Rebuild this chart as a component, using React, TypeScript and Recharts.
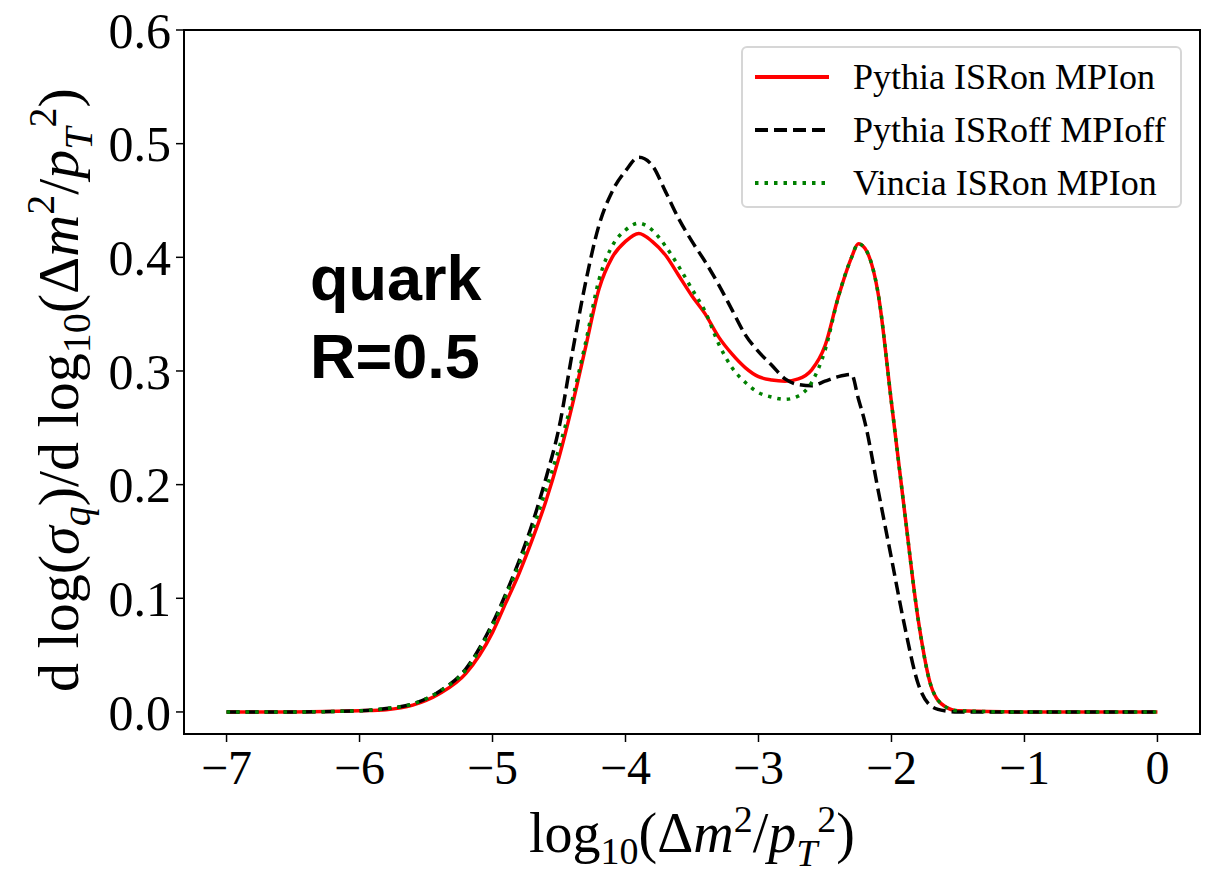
import React from "react";
import { LineChart, Line, XAxis, YAxis, ReferenceArea } from "recharts";

// log10(dm^2/pT^2) sample points
const xValues = [
  -7, -6.5, -6, -5.8, -5.6, -5.4, -5.2, -5.0, -4.9, -4.8, -4.7, -4.6, -4.5,
  -4.4, -4.3, -4.2, -4.1, -4.0, -3.9, -3.8, -3.7, -3.6, -3.5, -3.4, -3.3, -3.2,
  -3.1, -3.0, -2.9, -2.8, -2.7, -2.6, -2.5, -2.4, -2.3, -2.25, -2.2, -2.1, -2.0,
  -1.9, -1.8, -1.7, -1.6, -1.5, -1.0, -0.5, 0,
];

const pythiaOn = [
  0, 0, 0.001, 0.002, 0.006, 0.016, 0.034, 0.07, 0.096, 0.122, 0.152, 0.185,
  0.224, 0.27, 0.321, 0.372, 0.4, 0.414, 0.421, 0.414, 0.402, 0.384, 0.366,
  0.35, 0.33, 0.315, 0.303, 0.295, 0.292, 0.291, 0.293, 0.301, 0.322, 0.365,
  0.4, 0.412, 0.408, 0.368, 0.272, 0.175, 0.082, 0.022, 0.005, 0.001, 0, 0, 0,
];

const pythiaOff = [
  0, 0, 0.001, 0.003, 0.007, 0.018, 0.038, 0.078, 0.104, 0.133, 0.166, 0.205,
  0.25, 0.316, 0.378, 0.428, 0.458, 0.476, 0.488, 0.481, 0.458, 0.434, 0.414,
  0.396, 0.376, 0.354, 0.332, 0.317, 0.305, 0.293, 0.288, 0.287, 0.291, 0.295,
  0.297, 0.276, 0.255, 0.195, 0.135, 0.075, 0.025, 0.005, 0.001, 0, 0, 0, 0,
];

const vinciaOn = [
  0, 0, 0.001, 0.003, 0.007, 0.018, 0.037, 0.076, 0.102, 0.13, 0.16, 0.195,
  0.232, 0.275, 0.325, 0.38, 0.41, 0.424, 0.43, 0.424, 0.41, 0.392, 0.372,
  0.352, 0.324, 0.303, 0.29, 0.281, 0.277, 0.275, 0.278, 0.29, 0.318, 0.365,
  0.4, 0.412, 0.408, 0.368, 0.272, 0.175, 0.082, 0.022, 0.005, 0.001, 0, 0, 0,
];

const xTicks = [-7, -6, -5, -4, -3, -2, -1, 0];
const yTicks = [0, 0.1, 0.2, 0.3, 0.4, 0.5, 0.6];

const seriesInfo = [
  { key: "pythiaOn", name: "Pythia ISRon MPIon", color: "#ff0000", dash: undefined },
  { key: "pythiaOff", name: "Pythia ISRoff MPIoff", color: "#000000", dash: "13 6" },
  { key: "vinciaOn", name: "Vincia ISRon MPIon", color: "#008000", dash: "3.5 6" },
];

const data = xValues.map((x, i) => ({
  x,
  pythiaOn: pythiaOn[i],
  pythiaOff: pythiaOff[i],
  vinciaOn: vinciaOn[i],
}));

const serif = "'Liberation Serif', 'DejaVu Serif', serif";

const fmtX = (v: number) => (v < 0 ? "\u2212" + Math.abs(v) : String(v));

const LegendBox = () => (
  <div
    style={{
      position: "absolute",
      left: 741,
      top: 46,
      width: 441,
      height: 162,
      border: "2px solid #d6d6d6",
      borderRadius: 6,
      background: "#fff",
      boxSizing: "border-box",
      padding: "0 0 0 10px",
      fontFamily: serif,
      fontSize: 36,
      color: "#000",
    }}
  >
    {seriesInfo.map((s, i) => (
      <div
        key={s.key}
        style={{
          display: "flex",
          alignItems: "center",
          height: 53,
          marginTop: i === 0 ? 2 : 0,
        }}
      >
        <svg width={80} height={10}>
          <line
            x1={2}
            y1={5}
            x2={76}
            y2={5}
            stroke={s.color}
            strokeWidth={4}
            strokeDasharray={s.dash}
          />
        </svg>
        <span style={{ marginLeft: 20 }}>{s.name}</span>
      </div>
    ))}
  </div>
);

export default function App() {
  return (
    <div style={{ position: "absolute", left: 0, top: 0, width: 1214, height: 877 }}>
      <LineChart
        width={1214}
        height={877}
        data={data}
        margin={{ top: 30, right: 14, bottom: 83, left: 84 }}
      >
        <XAxis
          dataKey="x"
          type="number"
          domain={[-7.32, 0.32]}
          ticks={xTicks}
          tickFormatter={fmtX}
          allowDataOverflow
          height={60}
          axisLine={{ stroke: "#000", strokeWidth: 2 }}
          tickLine={{ stroke: "#000", strokeWidth: 1.5 }}
          tickSize={8}
          tick={{ fill: "#000", fontSize: 48, fontFamily: serif, dy: 6 }}
        />
        <YAxis
          type="number"
          domain={[-0.0194, 0.6]}
          ticks={yTicks}
          tickFormatter={(v: number) => v.toFixed(1)}
          allowDataOverflow
          width={100}
          axisLine={{ stroke: "#000", strokeWidth: 2 }}
          tickLine={{ stroke: "#000", strokeWidth: 1.5 }}
          tickSize={8}
          tick={{ fill: "#000", fontSize: 50, fontFamily: serif, dx: -3 }}
        />
        <ReferenceArea
          x1={-7.32}
          x2={0.32}
          y1={-0.0194}
          y2={0.6}
          fill="none"
          stroke="#000"
          strokeWidth={2}
          ifOverflow="visible"
        />
        {seriesInfo.map((s) => (
          <Line
            key={s.key}
            dataKey={s.key}
            name={s.name}
            type="monotone"
            stroke={s.color}
            strokeWidth={3.5}
            strokeDasharray={s.dash}
            dot={false}
            isAnimationActive={false}
          />
        ))}
        <text
          x={310}
          y={300}
          fontFamily="'Liberation Sans', Arial, sans-serif"
          fontWeight="bold"
          fontSize={63}
          fill="#000"
        >
          quark
        </text>
        <text
          x={310}
          y={378}
          fontFamily="'Liberation Sans', Arial, sans-serif"
          fontWeight="bold"
          fontSize={63}
          fill="#000"
        >
          R=0.5
        </text>
        <text
          x={692}
          y={852}
          textAnchor="middle"
          fontFamily={serif}
          fontSize={56}
          fill="#000"
        >
          log
          <tspan fontSize={38} dy={12}>10</tspan>
          <tspan dy={-12}>(Δ</tspan>
          <tspan fontStyle="italic">m</tspan>
          <tspan fontSize={38} dy={-20}>2</tspan>
          <tspan dy={20}>/</tspan>
          <tspan fontStyle="italic">p</tspan>
          <tspan fontSize={38} fontStyle="italic" dy={14}>T</tspan>
          <tspan fontSize={38} dy={-34}>2</tspan>
          <tspan dy={20}>)</tspan>
        </text>
        <text
          transform="translate(78,390) rotate(-90)"
          textAnchor="middle"
          fontFamily={serif}
          fontSize={58}
          fill="#000"
        >
          d log(
          <tspan fontStyle="italic">σ</tspan>
          <tspan fontSize={40} fontStyle="italic" dy={12}>q</tspan>
          <tspan dy={-12}>)/d log</tspan>
          <tspan fontSize={40} dy={12}>10</tspan>
          <tspan dy={-12}>(Δ</tspan>
          <tspan fontStyle="italic">m</tspan>
          <tspan fontSize={40} dy={-24}>2</tspan>
          <tspan dy={24}>/</tspan>
          <tspan fontStyle="italic">p</tspan>
          <tspan fontSize={40} fontStyle="italic" dy={14}>T</tspan>
          <tspan fontSize={40} dy={-36}>2</tspan>
          <tspan dy={22}>)</tspan>
        </text>
      </LineChart>
      <LegendBox />
    </div>
  );
}
